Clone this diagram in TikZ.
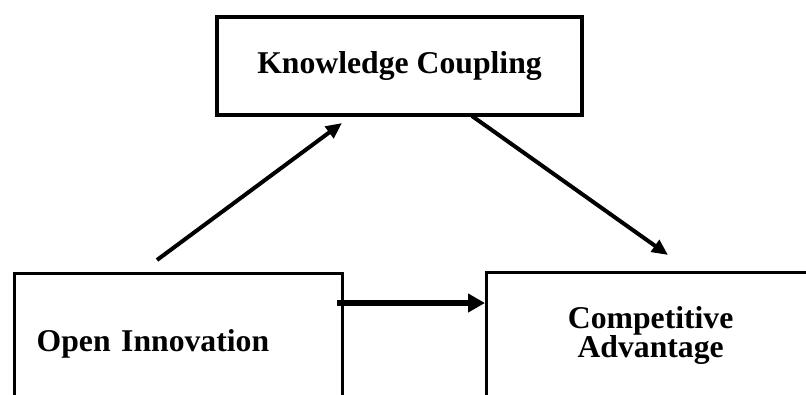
\documentclass[tikz,border=0pt]{standalone}
\usepackage{fontspec}
\setmainfont{Liberation Serif}
\usetikzlibrary{arrows.meta}
\tikzset{
  boxnode/.style={draw=black, line width=3.3pt, rectangle, inner sep=0pt,
    font=\fontsize{31.7}{29}\selectfont\bfseries},
  diagarrow/.style={line width=4pt, -{Triangle[length=16pt,width=14pt]}},
  horarrow/.style={line width=6pt, -{Triangle[length=17pt,width=18pt]}}
}
\begin{document}
\begin{tikzpicture}[x=1pt,y=-1pt]
\clip (0,0) rectangle (806,394);
\fill[white] (0,0) rectangle (806,394);
\node[boxnode, minimum width=365pt, minimum height=98pt] (kc) at (399.5,66) {Knowledge Coupling};
\node[boxnode, anchor=north west, minimum width=328.5pt, minimum height=141pt,
      text width=283.5pt, inner xsep=22.5pt, align=left] (oi) at (12.5,272) {Open Innovation};
\node[boxnode, anchor=north west, minimum width=328pt, minimum height=126pt,
      align=center] (ca) at (485,271) {Competitive\\Advantage};
\coordinate (a1s) at (157,260);
\coordinate (a1e) at (342,123);
\coordinate (a2s) at (472,116);
\coordinate (a2e) at (668,255);
\coordinate (hs) at (337,303);
\draw[diagarrow] (a1s) -- (a1e);
\draw[diagarrow] (a2s) -- (a2e);
\draw[horarrow] (hs) -- (hs -| ca.west);
\end{tikzpicture}
\end{document}
